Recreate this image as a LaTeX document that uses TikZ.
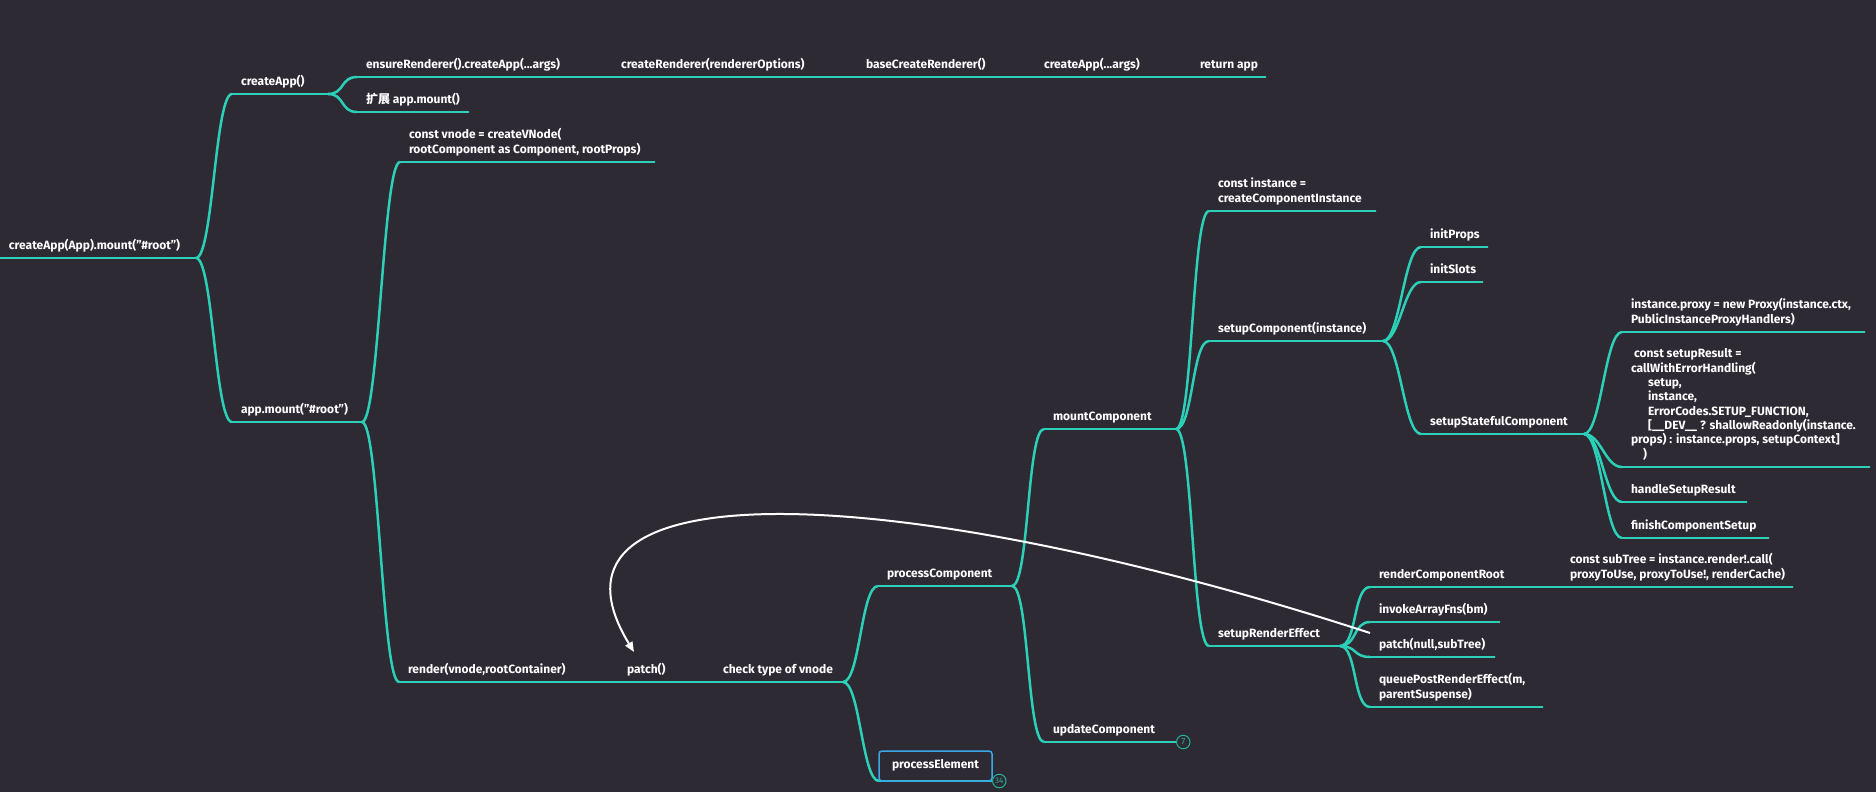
\documentclass[tikz,border=0pt]{standalone}
\usepackage{fontspec}
\setmainfont{Fira Sans}
\newfontfamily\cjk{Noto Sans CJK SC}
\usepackage{tikz}
\usetikzlibrary{positioning,calc,arrows.meta}

\definecolor{bgdark}{HTML}{2E2A33}
\definecolor{mline}{HTML}{2CCFB7}
\definecolor{pblue}{HTML}{3AA8E8}
\definecolor{badgec}{HTML}{22B39C}

\tikzset{
  topic/.style={draw=mline, line width=2.5pt, inner sep=0pt, outer sep=0pt,
    minimum height=0pt, minimum width=#1pt, anchor=west},
  txt/.style={anchor=south west, inner xsep=9pt, inner ysep=4.7pt, outer sep=0pt,
    text=white, align=left, font=\fontsize{12}{14.3}\selectfont\bfseries,
    execute at end node=\strut},
  branch/.style={draw=mline, line width=2.5pt},
  badge/.style={circle, draw=badgec, line width=1pt, inner sep=0pt, minimum size=13.5pt,
    text=badgec, font=\fontsize{9}{10}\selectfont},
  jump/.style={draw=white, line width=2pt, -{Triangle[length=10pt,width=8pt]}}
}

\begin{document}
\begin{tikzpicture}[x=1pt, y=-1pt]
\useasboundingbox (0,0) rectangle (1876,792);
\fill[bgdark] (0,0) rectangle (1876,792);

% single line topics
\foreach \nm/\xs/\xe/\y/\txt in {
  root/0/196/258/{createApp(App).mount("\#root")},
  capp/232/328/94/{createApp()},
  amount/232/362/422/{app.mount("\#root")},
  ensure/357/590/77/{ensureRenderer().createApp(...args)},
  crend/612/815/77/{createRenderer(rendererOptions)},
  bcrend/857/993/77/{baseCreateRenderer()},
  capp2/1035/1150/77/{createApp(...args)},
  retapp/1191/1266/77/{return app},
  ext/357/469/112/{{\cjk 扩展} app.mount()},
  render/399/576/682/{render(vnode,rootContainer)},
  patch/618/672/682/{patch()},
  check/714/843/682/{check type of vnode},
  pcomp/878/1012/586/{processComponent},
  mcomp/1044/1176/429/{mountComponent},
  ucomp/1044/1176/742/{updateComponent},
  setup/1209/1383/341/{setupComponent(instance)},
  sre/1209/1340/646/{setupRenderEffect},
  iprops/1421/1488/247/{initProps},
  islots/1421/1483/282/{initSlots},
  ssc/1421/1584/434/{setupStatefulComponent},
  hsr/1622/1747/502/{handleSetupResult},
  fcs/1622/1769/538/{finishComponentSetup},
  rcr/1370/1519/587/{renderComponentRoot},
  iaf/1370/1500/622/{invokeArrayFns(bm)},
  pns/1370/1495/657/{patch(null,subTree)}} {
    \pgfmathsetmacro\w{\xe-\xs}
    \node[topic=\w, label={[txt, name=\nm-t]north west:{\txt}}] (\nm) at (\xs,\y) {};
}

% multi line topics
\node[topic=255, label={[txt]north west:{const vnode = createVNode(\\
  rootComponent as Component, rootProps)}}] (vnode) at (400,162) {};
\node[topic=167, label={[txt]north west:{const instance =\\
  createComponentInstance}}] (cinst) at (1209,211) {};
\node[topic=243, label={[txt]north west:{instance.proxy = new Proxy(instance.ctx,\\
  PublicInstanceProxyHandlers)}}] (proxy) at (1622,332) {};
\node[topic=248, label={[txt]north west:{\hspace*{3pt}const setupResult =\\
  callWithErrorHandling(\\
  \hspace*{17pt}setup,\\
  \hspace*{17pt}instance,\\
  \hspace*{17pt}ErrorCodes.SETUP\_FUNCTION,\\
  \hspace*{17pt}[\_\_DEV\_\_ ? shallowReadonly(instance.\\
  props) : instance.props, setupContext]\\
  \hspace*{12pt})}}] (sres) at (1622,467) {};
\node[topic=232, label={[txt]north west:{const subTree = instance.render!.call(\\
  proxyToUse, proxyToUse!, renderCache)}}] (subtree) at (1561,587) {};
\node[topic=173, label={[txt]north west:{queuePostRenderEffect(m,\\
  parentSuspense)}}] (qpre) at (1370,707) {};
\node[topic=113, label={[txt, draw=pblue, line width=1.5pt, rounded corners=3pt,
  minimum width=113pt, minimum height=30pt, inner xsep=0pt]north west:processElement}]
  (pelem) at (879,781) {};

% counters
\node[badge, right=0pt of ucomp] (ubadge) {7};
\node[badge, right=0pt of pelem, font=\fontsize{8}{9}\selectfont] (pbadge) {34};

% curved branches
\foreach \a/\b in {root/capp, root/amount, capp/ensure, capp/ext, amount/vnode,
  amount/render, check/pcomp, check/pelem, pcomp/mcomp, pcomp/ucomp, mcomp/cinst,
  mcomp/setup, mcomp/sre, setup/iprops, setup/islots, setup/ssc, ssc/proxy,
  ssc/sres, ssc/hsr, ssc/fcs, sre/rcr, sre/iaf, sre/pns, sre/qpre} {
    \draw[branch] (\a.east) .. controls +(17,0) and +(-17,0) .. (\b.west);
}
% straight chains
\foreach \a/\b in {ensure/crend, crend/bcrend, bcrend/capp2, capp2/retapp,
  render/patch, patch/check, rcr/subtree} {
    \draw[branch] (\a.east) -- (\b.west);
}

% call back to patch()
\coordinate (patchtip) at (634,652);
\draw[jump] (pns-t.north west) .. controls (900,480) and (520,465) .. (patchtip);
\end{tikzpicture}
\end{document}
